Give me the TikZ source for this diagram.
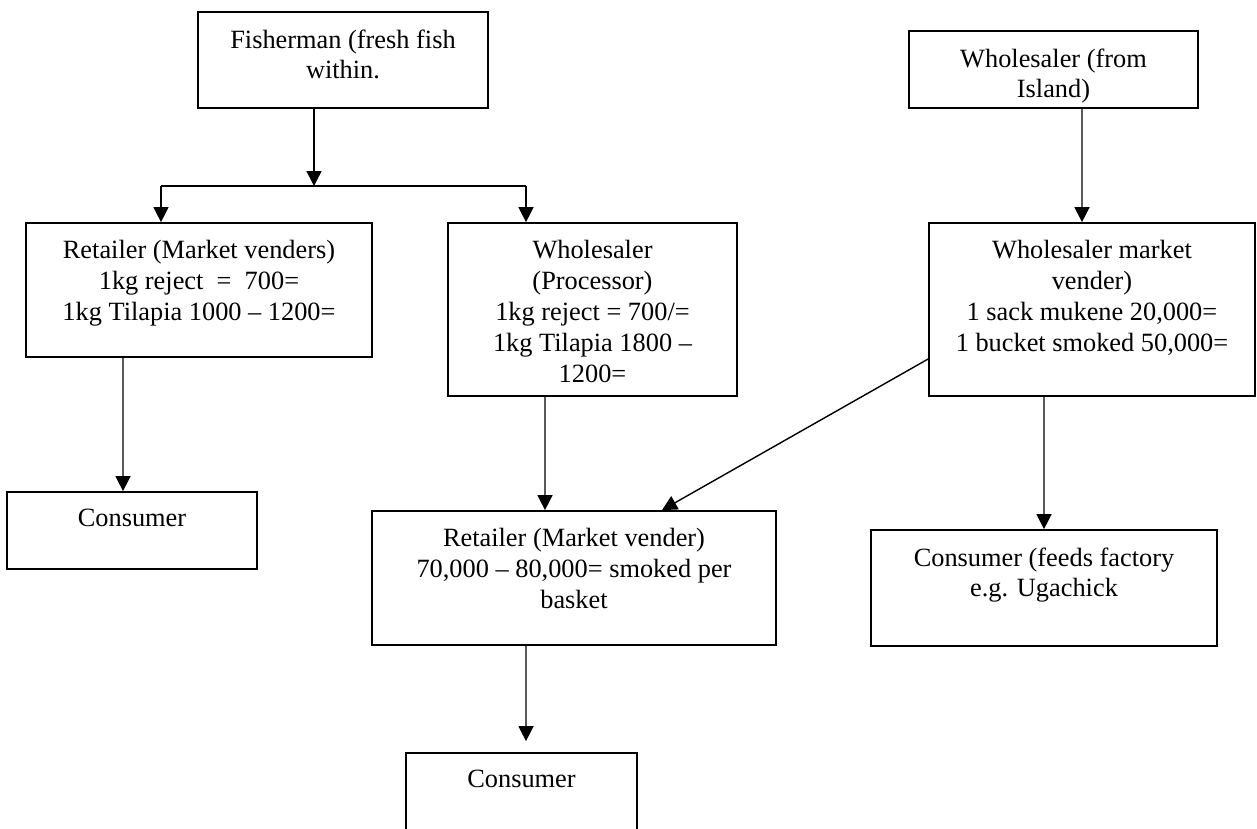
\documentclass[tikz,border=0pt]{standalone}
\usepackage{fontspec}
\setmainfont{Liberation Serif}
\usetikzlibrary{arrows.meta}

\begin{document}
\begin{tikzpicture}[
        x=0.02cm, y=-0.02cm,
        font=\fontsize{15}{17.6}\selectfont,
        box/.style={draw,line width=1pt,inner sep=0pt},
        boxtext/.style={anchor=north,align=center,inner sep=0pt,yshift=-0.36cm},
        link/.style={-{Triangle[length=0.3cm,width=0.3cm]},line width=0.8pt},
        plain/.style={line width=0.8pt}
    ]
        \clip (0,0) rectangle (1257,828);

        \node[box,minimum width=5.8cm,minimum height=1.92cm,label={[boxtext]north:{Fisherman (fresh fish\\within.}}] (fish) at (343,60) {};
        \node[box,minimum width=5.78cm,minimum height=1.54cm,label={[boxtext]north:{Wholesaler (from\\Island)}}] (island) at (1053.5,69.5) {};

        \node[box,minimum width=6.92cm,minimum height=2.68cm,label={[boxtext]north:{Retailer (Market venders)\\1kg reject~ = ~700=\\1kg Tilapia 1000 -- 1200=}}] (retv) at (199,290) {};
        \node[box,minimum width=5.78cm,minimum height=3.46cm,label={[boxtext]north:{Wholesaler\\(Processor)\\1kg reject = 700/=\\1kg Tilapia 1800 --\\1200=}}] (proc) at (592.5,309.5) {};
        \node[box,minimum width=6.52cm,minimum height=3.46cm,label={[boxtext]north:{Wholesaler market\\vender)\\1 sack mukene 20,000=\\1 bucket smoked 50,000=}}] (whmkt) at (1092,309.5) {};

        \node[box,minimum width=5.0cm,minimum height=1.54cm,label={[boxtext]north:{Consumer}}] (cons1) at (132,530.5) {};
        \node[box,minimum width=8.08cm,minimum height=2.68cm,label={[boxtext]north:{Retailer (Market vender)\\70,000 -- 80,000= smoked per\\basket}}] (retm) at (574,578) {};
        \node[box,minimum width=6.92cm,minimum height=2.32cm,label={[boxtext]north:{Consumer (feeds factory\\e.g. Ugachick}}] (feeds) at (1044,588) {};
        \node[box,minimum width=4.62cm,minimum height=1.92cm,label={[boxtext]north:{Consumer}}] (cons2) at (521.5,801) {};

        \coordinate (split) at (314,186);
        \coordinate (splitL) at (161,186);
        \coordinate (splitR) at (526,186);

        \draw[link] (fish.south -| split) -- (split);
        \draw[plain] (splitL) -- (splitR);
        \draw[link] (splitL) -- (splitL |- retv.north);
        \draw[link] (splitR) -- (splitR |- proc.north);

        \draw[link] ([xshift=0.57cm]island.south) -- ([xshift=-0.2cm]whmkt.north);
        \draw[link] ([xshift=-1.52cm]retv.south) -- ([xshift=-0.18cm]cons1.north);
        \draw[link] ([xshift=-0.95cm]proc.south) -- ([xshift=-0.58cm]retm.north);
        \draw[link] ([yshift=-0.99cm]whmkt.west) -- ([xshift=1.76cm]retm.north);
        \draw[link] ([xshift=-0.96cm]whmkt.south) -- (feeds.north);
        \draw[link,shorten >=0.22cm] ([xshift=-0.96cm]retm.south) -- ([xshift=0.09cm]cons2.north);
    \end{tikzpicture}
\end{document}
